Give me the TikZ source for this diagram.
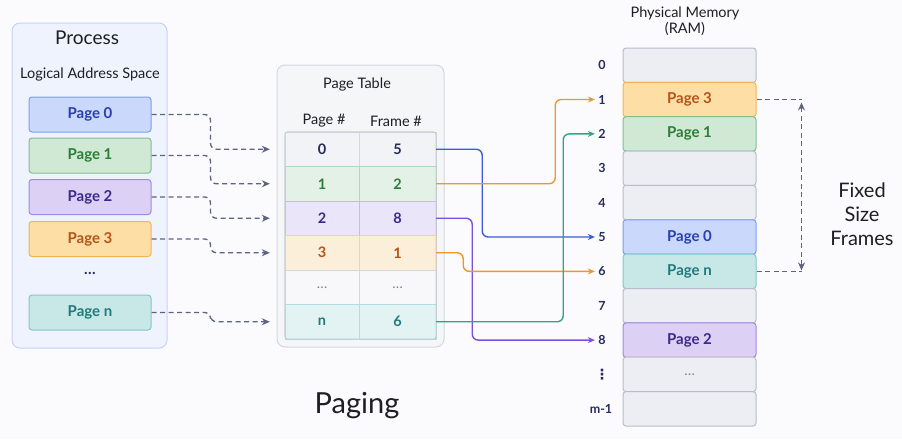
\documentclass[tikz,border=0pt]{standalone}
\usepackage{fontspec}
\setmainfont{Lato}
\newfontfamily\simboli{DejaVu Sans}
\usetikzlibrary{positioning,arrows.meta}

\definecolor{sfondo}{HTML}{FBFBFD}
\definecolor{inchiostro}{HTML}{1E1E24}
\definecolor{tratteggio}{HTML}{5C6482}
\definecolor{numeri}{HTML}{262A5C}
% colori delle pagine
\definecolor{bluF}{HTML}{C9D8FB}\definecolor{bluB}{HTML}{7E9DF0}\definecolor{bluT}{HTML}{2B3FB0}
\definecolor{verF}{HTML}{CFE9D5}\definecolor{verB}{HTML}{80C08F}\definecolor{verT}{HTML}{2E7D36}
\definecolor{viaF}{HTML}{DCD0F5}\definecolor{viaB}{HTML}{A08AE0}\definecolor{viaT}{HTML}{3A2A8C}
\definecolor{araF}{HTML}{FDDEA5}\definecolor{araB}{HTML}{F2B553}\definecolor{araT}{HTML}{B5541B}
\definecolor{turF}{HTML}{C8E8E8}\definecolor{turB}{HTML}{80C8C8}\definecolor{turT}{HTML}{1F7A7A}
\definecolor{vuoF}{HTML}{EDEEF3}\definecolor{vuoB}{HTML}{B9BDCB}
% frecce
\definecolor{fBlu}{HTML}{3B5BDB}\definecolor{fAra}{HTML}{F0962A}
\definecolor{fVer}{HTML}{2FA585}\definecolor{fVia}{HTML}{7B4FE0}

\tikzset{
  pagina/.style={draw, rounded corners=3pt, line width=1pt, minimum width=122, minimum height=35,
    font=\bfseries\fontsize{15}{17}\selectfont},
  cella/.style={draw=#1!60!white, fill=#1!22!white, minimum height=34.5, inner sep=0pt,
    font=\bfseries\fontsize{14.5}{16}\selectfont},
  cellap/.style={cella=#1, minimum width=74},
  cellaf/.style={cella=#1, minimum width=77},
  telaio/.style={draw, rounded corners=3pt, line width=1pt, minimum width=133, minimum height=34.4,
    font=\bfseries\fontsize{15}{17}\selectfont},
  indice/.style={text=numeri, font=\bfseries\fontsize{12.5}{14}\selectfont},
  titolo/.style={text=inchiostro, font=\fontsize{14.5}{16}\selectfont},
  linea/.style={dash pattern=on 5pt off 3.5pt, color=tratteggio, line width=1.3pt},
  punta/.style={-{Stealth[length=8pt,width=7pt]}},
  freccia/.style={line width=1.4pt, rounded corners=6pt, -{Stealth[length=7pt,width=6pt]}}
}

\begin{document}
\begin{tikzpicture}[x=1pt,y=-1pt]
        \useasboundingbox[fill=sfondo] (0,0) rectangle (902,439);
        %processo
        \draw[fill=bluF!30!white, draw=bluB!45!white, rounded corners=8pt, line width=1pt] (12,23) rectangle (167,348);
        \node[titolo, font=\fontsize{19}{21}\selectfont] (proc) at (87,38) {Process};
        \node[titolo] (spazio) at (90,74) {Logical Address Space};
        \node[pagina, fill=bluF, draw=bluB, text=bluT] (pg0) at (90,114.5) {Page 0};
        \node[pagina, fill=verF, draw=verB, text=verT] (pg1) at (90,155.5) {Page 1};
        \node[pagina, fill=viaF, draw=viaB, text=viaT] (pg2) at (90,197) {Page 2};
        \node[pagina, fill=araF, draw=araB, text=araT] (pg3) at (90,239) {Page 3};
        \node[text=numeri, font=\bfseries\fontsize{15}{17}\selectfont] (pgd) at (90,273) {\dots};
        \node[pagina, fill=turF, draw=turB, text=turT] (pgn) at (90,312.5) {Page n};

        %tabella delle pagine
        \draw[fill=vuoF!55!white, draw=vuoB!60!white, rounded corners=8pt, line width=1pt] (277,65) rectangle (444,347);
        \node[titolo] (tab) at (357,84) {Page Table};
        \node[titolo] (hp) at (324,121) {Page \#};
        \node[titolo] (hf) at (396,121) {Frame \#};
        \node[cellap=vuoB, fill=vuoF!70!white, text=numeri] (c0) at (322,149.25) {0};
        \node[cellaf=vuoB, fill=vuoF!70!white, text=numeri] (f0) at (397.5,149.25) {5};
        \node[cellap=verB, text=verT] (c1) at (322,183.75) {1};
        \node[cellaf=verB, text=verT] (f1) at (397.5,183.75) {2};
        \node[cellap=viaB, text=viaT] (c2) at (322,218.25) {2};
        \node[cellaf=viaB, text=viaT] (f2) at (397.5,218.25) {8};
        \node[cellap=araB, text=araT] (c3) at (322,252.75) {3};
        \node[cellaf=araB, text=araT] (f3) at (397.5,252.75) {1};
        \node[cellap=vuoB, fill=vuoF!40!white, text=numeri!60!white, font=\fontsize{14}{16}\selectfont] (cd) at (322,287.25) {\dots};
        \node[cellaf=vuoB, fill=vuoF!40!white, text=numeri!60!white, font=\fontsize{14}{16}\selectfont] (fd) at (397.5,287.25) {\dots};
        \node[cellap=turB, text=turT] (cn) at (322,321.75) {n};
        \node[cellaf=turB, text=turT] (fn) at (397.5,321.75) {6};
        \draw[draw=vuoB!80!white, rounded corners=3pt, line width=1pt] (c0.north west) rectangle (fn.south east);

        %memoria fisica
        \node[titolo] (ram) at (685,13) {Physical Memory};
        \node[titolo] (ram2) at (685,29) {(RAM)};
        \node[telaio, fill=vuoF, draw=vuoB] (m0) at (689.5,65.2) {};
        \node[telaio, fill=araF, draw=araB, text=araT] (m1) at (689.5,99.5) {Page 3};
        \node[telaio, fill=verF, draw=verB, text=verT] (m2) at (689.5,133.9) {Page 1};
        \node[telaio, fill=vuoF, draw=vuoB] (m3) at (689.5,168.3) {};
        \node[telaio, fill=vuoF, draw=vuoB] (m4) at (689.5,202.6) {};
        \node[telaio, fill=bluF, draw=bluB, text=bluT] (m5) at (689.5,237.0) {Page 0};
        \node[telaio, fill=turF, draw=turB, text=turT] (m6) at (689.5,271.4) {Page n};
        \node[telaio, fill=vuoF, draw=vuoB] (m7) at (689.5,305.7) {};
        \node[telaio, fill=viaF, draw=viaB, text=viaT] (m8) at (689.5,340.1) {Page 2};
        \node[telaio, fill=vuoF, draw=vuoB, text=numeri!60!white, font=\fontsize{14}{16}\selectfont] (md) at (689.5,374.4) {\dots};
        \node[telaio, fill=vuoF, draw=vuoB] (mm) at (689.5,408.8) {};
        %indici dei frame
        \node[indice] (i0) at (602,65.2) {0};
        \node[indice] (i1) at (602,99.5) {1};
        \node[indice] (i2) at (602,133.9) {2};
        \node[indice] (i3) at (602,168.3) {3};
        \node[indice] (i4) at (602,202.6) {4};
        \node[indice] (i5) at (602,237.0) {5};
        \node[indice] (i6) at (602,271.4) {6};
        \node[indice] (i7) at (602,305.7) {7};
        \node[indice] (i8) at (602,340.1) {8};
        \node[indice, font=\simboli\bfseries\fontsize{14}{16}\selectfont] (id) at (602,374.4) {⋮};
        \node[indice] (im) at (601,408.8) {m-1};

        %frecce tratteggiate verso la tabella
        \draw[linea, punta, rounded corners=6pt] (pg0.east) -- ++(59,0) |- ([xshift=-15pt]c0.west);
        \draw[linea, punta, rounded corners=6pt] (pg1.east) -- ++(59,0) |- ([xshift=-15pt]c1.west);
        \draw[linea, punta, rounded corners=6pt] (pg2.east) -- ++(59,0) |- ([xshift=-15pt]c2.west);
        \draw[linea, punta, rounded corners=6pt] (pg3.east) -- ++(59,0) |- ([xshift=-15pt]c3.west);
        \draw[linea, punta, rounded corners=6pt] (pgn.east) -- ++(59,0) |- ([xshift=-15pt]cn.west);

        %frecce verso i frame
        \draw[freccia, fBlu] (f0.east) -- ++(46,0) |- (i5.west);
        \draw[freccia, fAra] (f1.east) -- ++(119,0) |- (i1.west);
        \draw[freccia, fVia] (f2.east) -- ++(36,0) |- (i8.west);
        \draw[freccia, fAra] (f3.east) -- ++(27,0) |- (i6.west);
        \draw[freccia, fVer] (fn.east) -- ++(127,0) |- (i2.west);

        %frame di dimensione fissa
        \draw[linea] (m1.east) -- ++(45,0) coordinate (bt);
        \draw[linea] (m6.east) -- ++(45,0) coordinate (bb);
        \draw[linea, {Stealth[length=8pt,width=7pt]}-{Stealth[length=8pt,width=7pt]}, shorten <=3pt, shorten >=1pt] (bt) -- (bb);
        \node[titolo, font=\fontsize{20}{24}\selectfont, align=center] (fissi) at (862,214) {Fixed\\Size\\Frames};

        \node[titolo, font=\fontsize{29}{32}\selectfont] (paging) at (357,406) {Paging};
    \end{tikzpicture}
\end{document}
